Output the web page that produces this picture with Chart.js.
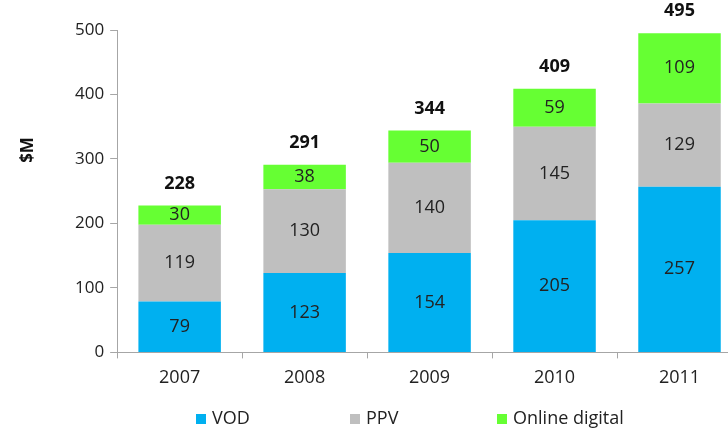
<!DOCTYPE html>
<html lang="en">
<head>
    <meta charset="UTF-8">
    <title>Revenue</title>
    <script src="https://cdn.jsdelivr.net/npm/chart.js"></script>
    <style>
        html, body { margin: 0; padding: 0; background: #fff; overflow: hidden; }
        #wrap { width: 744px; height: 428px; }
    </style>
</head>
<body>
<div id="wrap"><canvas id="revChart" width="744" height="428"></canvas></div>
<script>
const years = ['2007', '2008', '2009', '2010', '2011'];
const vod = [79, 123, 154, 205, 257];
const ppv = [119, 130, 140, 145, 129];
const online = [30, 38, 50, 59, 109];
const totals = [228, 291, 344, 409, 495];

const FONT = "'Open Sans', 'DejaVu Sans', sans-serif";
const legendX = [196, 350, 497];

// numbers inside segments, bold totals, axis title and legend
const valueLabels = {
    id: 'valueLabels',
    afterDatasetsDraw(chart) {
        const ctx = chart.ctx;
        ctx.save();
        ctx.textAlign = 'center';
        ctx.textBaseline = 'middle';
        ctx.fillStyle = '#222';
        ctx.font = '18px ' + FONT;
        chart.data.datasets.forEach((ds, i) => {
            chart.getDatasetMeta(i).data.forEach((bar, j) => {
                const mid = (bar.y + bar.base) / 2;
                ctx.fillText(ds.data[j], bar.x, mid);
            });
        });
        ctx.font = 'bold 18px ' + FONT;
        ctx.fillStyle = '#111';
        chart.getDatasetMeta(2).data.forEach((bar, j) => {
            ctx.fillText(totals[j], bar.x, bar.y - 22);
        });

        // legend
        ctx.textAlign = 'left';
        ctx.font = '18px ' + FONT;
        chart.data.datasets.forEach((ds, i) => {
            ctx.fillStyle = ds.backgroundColor;
            ctx.fillRect(legendX[i], 414, 10, 10);
            ctx.fillStyle = '#222';
            ctx.fillText(ds.label, legendX[i] + 16, 419);
        });

        // y axis title
        ctx.textAlign = 'center';
        ctx.translate(28, 150);
        ctx.rotate(-Math.PI / 2);
        ctx.font = 'bold 17px ' + FONT;
        ctx.fillStyle = '#111';
        ctx.fillText('$M', 0, 0);
        ctx.restore();
    }
};

const ctx = document.getElementById('revChart').getContext('2d');
new Chart(ctx, {
    type: 'bar',
    data: {
        labels: years,
        datasets: [
            { label: 'VOD', data: vod, backgroundColor: '#00B0F0' },
            { label: 'PPV', data: ppv, backgroundColor: '#BFBFBF' },
            { label: 'Online digital', data: online, backgroundColor: '#66FF33' }
        ]
    },
    options: {
        responsive: false,
        animation: false,
        layout: { padding: { left: 69, right: 2, top: 30, bottom: 30 } },
        datasets: { bar: { barPercentage: 0.66, categoryPercentage: 1 } },
        plugins: {
            legend: { display: false },
            tooltip: { enabled: false }
        },
        scales: {
            x: {
                stacked: true,
                border: { color: '#A6A6A6', width: 1 },
                grid: { offset: true, drawOnChartArea: false, tickLength: 6, color: '#A6A6A6' },
                ticks: { color: '#222', font: { family: FONT, size: 18 }, padding: 9 }
            },
            y: {
                stacked: true,
                min: 0, max: 500,
                border: { color: '#A6A6A6', width: 1 },
                grid: { drawOnChartArea: false, tickLength: 7, color: '#A6A6A6' },
                ticks: { stepSize: 100, color: '#222', font: { family: FONT, size: 17 }, padding: 6 }
            }
        }
    },
    plugins: [valueLabels]
});
</script>
</body>
</html>
